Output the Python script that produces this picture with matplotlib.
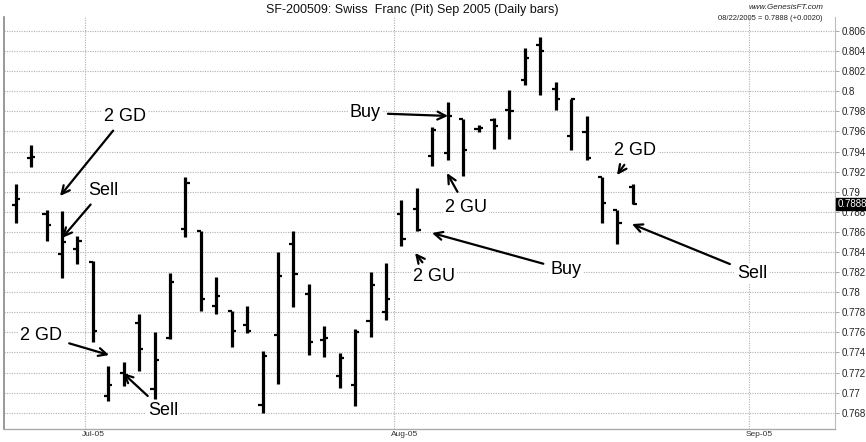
import numpy as np
import pandas as pd
import matplotlib
matplotlib.use("Agg")
import matplotlib.pyplot as plt
import matplotlib.transforms as mtransforms

plt.rcParams['font.family'] = ['Liberation Sans', 'DejaVu Sans']

# Swiss Franc (Pit) Sep 2005 futures, daily OHLC
dates = ["2005-06-24", "2005-06-27", "2005-06-28", "2005-06-29", "2005-06-30",
         "2005-07-01", "2005-07-05", "2005-07-06", "2005-07-07", "2005-07-08",
         "2005-07-11", "2005-07-12", "2005-07-13", "2005-07-14", "2005-07-15",
         "2005-07-18", "2005-07-19", "2005-07-20", "2005-07-21", "2005-07-22",
         "2005-07-25", "2005-07-26", "2005-07-27", "2005-07-28", "2005-07-29",
         "2005-08-01", "2005-08-02", "2005-08-03", "2005-08-04", "2005-08-05",
         "2005-08-08", "2005-08-09", "2005-08-10", "2005-08-11", "2005-08-12",
         "2005-08-15", "2005-08-16", "2005-08-17", "2005-08-18", "2005-08-19",
         "2005-08-22"]
opens = [0.7887, 0.7934, 0.7878, 0.7838, 0.7843, 0.7830, 0.7697, 0.7720, 0.7769, 0.7704,
         0.7754, 0.7863, 0.7861, 0.7786, 0.7781, 0.7767, 0.7688, 0.7757, 0.7848, 0.7798,
         0.7752, 0.7717, 0.7708, 0.7771, 0.7780, 0.7878, 0.7883, 0.7936, 0.7939, 0.7972,
         0.7962, 0.7971, 0.7981, 0.8011, 0.8046, 0.8002, 0.7955, 0.7959, 0.7915, 0.7882,
         0.7905]
highs = [0.7908, 0.7946, 0.7882, 0.7881, 0.7856, 0.7831, 0.7727, 0.7730, 0.7778, 0.7760,
         0.7819, 0.7915, 0.7861, 0.7815, 0.7781, 0.7786, 0.7741, 0.7840, 0.7861, 0.7808,
         0.7766, 0.7739, 0.7763, 0.7820, 0.7829, 0.7892, 0.7904, 0.7964, 0.7989, 0.7972,
         0.7966, 0.7973, 0.8001, 0.8043, 0.8054, 0.8009, 0.7992, 0.7975, 0.7915, 0.7882,
         0.7908]
lows = [0.7869, 0.7925, 0.7851, 0.7814, 0.7828, 0.7750, 0.7692, 0.7707, 0.7722, 0.7694,
        0.7753, 0.7855, 0.7781, 0.7778, 0.7745, 0.7759, 0.7680, 0.7709, 0.7785, 0.7737,
        0.7735, 0.7705, 0.7687, 0.7755, 0.7772, 0.7846, 0.7861, 0.7926, 0.7932, 0.7916,
        0.7959, 0.7943, 0.7952, 0.8006, 0.7996, 0.7981, 0.7942, 0.7932, 0.7869, 0.7848,
        0.7888]
closes = [0.7893, 0.7935, 0.7867, 0.7850, 0.7851, 0.7761, 0.7708, 0.7718, 0.7743, 0.7732,
          0.7810, 0.7909, 0.7793, 0.7796, 0.7761, 0.7761, 0.7736, 0.7816, 0.7818, 0.7750,
          0.7754, 0.7734, 0.7760, 0.7807, 0.7793, 0.7853, 0.7862, 0.7961, 0.7975, 0.7942,
          0.7963, 0.7965, 0.7980, 0.8033, 0.8040, 0.7992, 0.7992, 0.7934, 0.7889, 0.7869,
          0.7888]
last_close = 0.7888
net_change = 0.0020
month_labels = ["Jul-05", "Aug-05", "Sep-05"]
price_ticks = [0.768, 0.770, 0.772, 0.774, 0.776, 0.778, 0.780, 0.782, 0.784, 0.786,
               0.788, 0.790, 0.792, 0.794, 0.796, 0.798, 0.800, 0.802, 0.804, 0.806]

# trading calendar (exchange holidays removed) so the axis runs on past the data
cal = pd.bdate_range("2005-06-24", "2005-09-30")
cal = cal[~cal.isin(pd.to_datetime(["2005-07-04", "2005-09-05"]))]
pos = {d: i for i, d in enumerate(cal)}
x = np.array([pos[pd.Timestamp(d)] for d in dates], dtype=float)
month_starts = [pos[cal[cal.month == m][0]] - 0.5 for m in (7, 8, 9)]

fig = plt.figure(figsize=(8.66, 4.42), dpi=100)
ax = fig.add_axes([4 / 866, 1 - 428.7 / 442, 831 / 866, 411.7 / 442])

# OHLC bars
tick_w = 0.27
ax.vlines(x, lows, highs, color="black", lw=2.3, zorder=3)
ax.hlines(opens, x - tick_w, x, color="black", lw=1.6, zorder=3)
ax.hlines(closes, x, x + tick_w, color="black", lw=1.6, zorder=3)

ax.set_xlim(-0.76, 53.1)
ax.set_ylim(0.76641, 0.80739)

# axes styling
ax.yaxis.tick_right()
ax.set_yticks(price_ticks)
ax.set_yticklabels([f"{round(v, 3):g}" for v in price_ticks])
ax.tick_params(axis="y", direction="out", length=3, width=0.6, color="#999999",
               labelsize=7, pad=1.5, labelcolor="#222222")
ax.set_xticks(month_starts)
ax.set_xticklabels(month_labels)
for lab in ax.get_xticklabels():
    lab.set_horizontalalignment("left")
ax.tick_params(axis="x", length=0, labelsize=6, pad=1.5, labelcolor="#333333")
offset = mtransforms.ScaledTranslation(-3 / 100, 0, fig.dpi_scale_trans)
for lab in ax.get_xticklabels():
    lab.set_transform(lab.get_transform() + offset)

ax.grid(True, axis="both", color="#b0b0b0", linestyle=(0, (1, 1.2)), lw=0.8, zorder=0)
ax.spines["top"].set_visible(False)
ax.spines["left"].set_color("#888888")
ax.spines["left"].set_linewidth(1.2)
ax.spines["bottom"].set_color("#aaaaaa")
ax.spines["right"].set_color("#bbbbbb")
ax.spines["bottom"].set_linewidth(1.0)
ax.spines["right"].set_linewidth(0.8)

# last price marker on the price scale
blend = mtransforms.blended_transform_factory(ax.transAxes, ax.transData)
ax.text(1.003, last_close, f"{last_close:.4f}", transform=blend, ha="left", va="center",
        fontsize=7, color="white", zorder=5,
        bbox=dict(boxstyle="square,pad=0.12", fc="black", ec="black"))

# titles
fig.text(412 / 866, 1 - 10 / 442, "SF-200509: Swiss  Franc (Pit) Sep 2005 (Daily bars)",
         ha="center", va="center", fontsize=9, color="#111111")
fig.text(823 / 866, 1 - 7.5 / 442, "www.GenesisFT.com", ha="right", va="center",
         fontsize=5.8, style="italic", color="#222222")
fig.text(822 / 866, 1 - 19 / 442,
         f"{pd.Timestamp(dates[-1]):%m/%d/%Y} = {last_close:.4f} ({net_change:+.4f})",
         ha="right", va="center", fontsize=5.5, color="#222222")

# trade annotations: label, target bar, target price, text offset in pixels
notes = [
    ("2 GD", 2.87, 0.78957, 65, 80),
    ("Sell", 3.0, 0.78539, 41, 48),
    ("2 GD", 6.05, 0.77374, -68, 20),
    ("Sell", 6.95, 0.77195, 40, -37),
    ("Buy", 28.02, 0.79754, -83, 3),
    ("2 GU", 27.95, 0.79186, 19, -34),
    ("2 GU", 25.88, 0.78390, 19, -24),
    ("Buy", 26.98, 0.78589, 134, -37),
    ("2 GD", 38.97, 0.79166, 18, 25),
    ("Sell", 39.94, 0.78678, 120, -49),
]
for label, xi, yv, dx, dy in notes:
    ax.annotate(label, xy=(xi, yv), xytext=(dx, dy), textcoords="offset pixels",
                ha="center", va="center", fontsize=13, color="black", zorder=6,
                bbox=dict(boxstyle="square,pad=0.1", fc="white", ec="none"),
                arrowprops=dict(arrowstyle="->,head_length=0.45,head_width=0.22",
                                color="black", lw=1.6, shrinkA=4, shrinkB=0))

fig.savefig("out.png", dpi=100)
